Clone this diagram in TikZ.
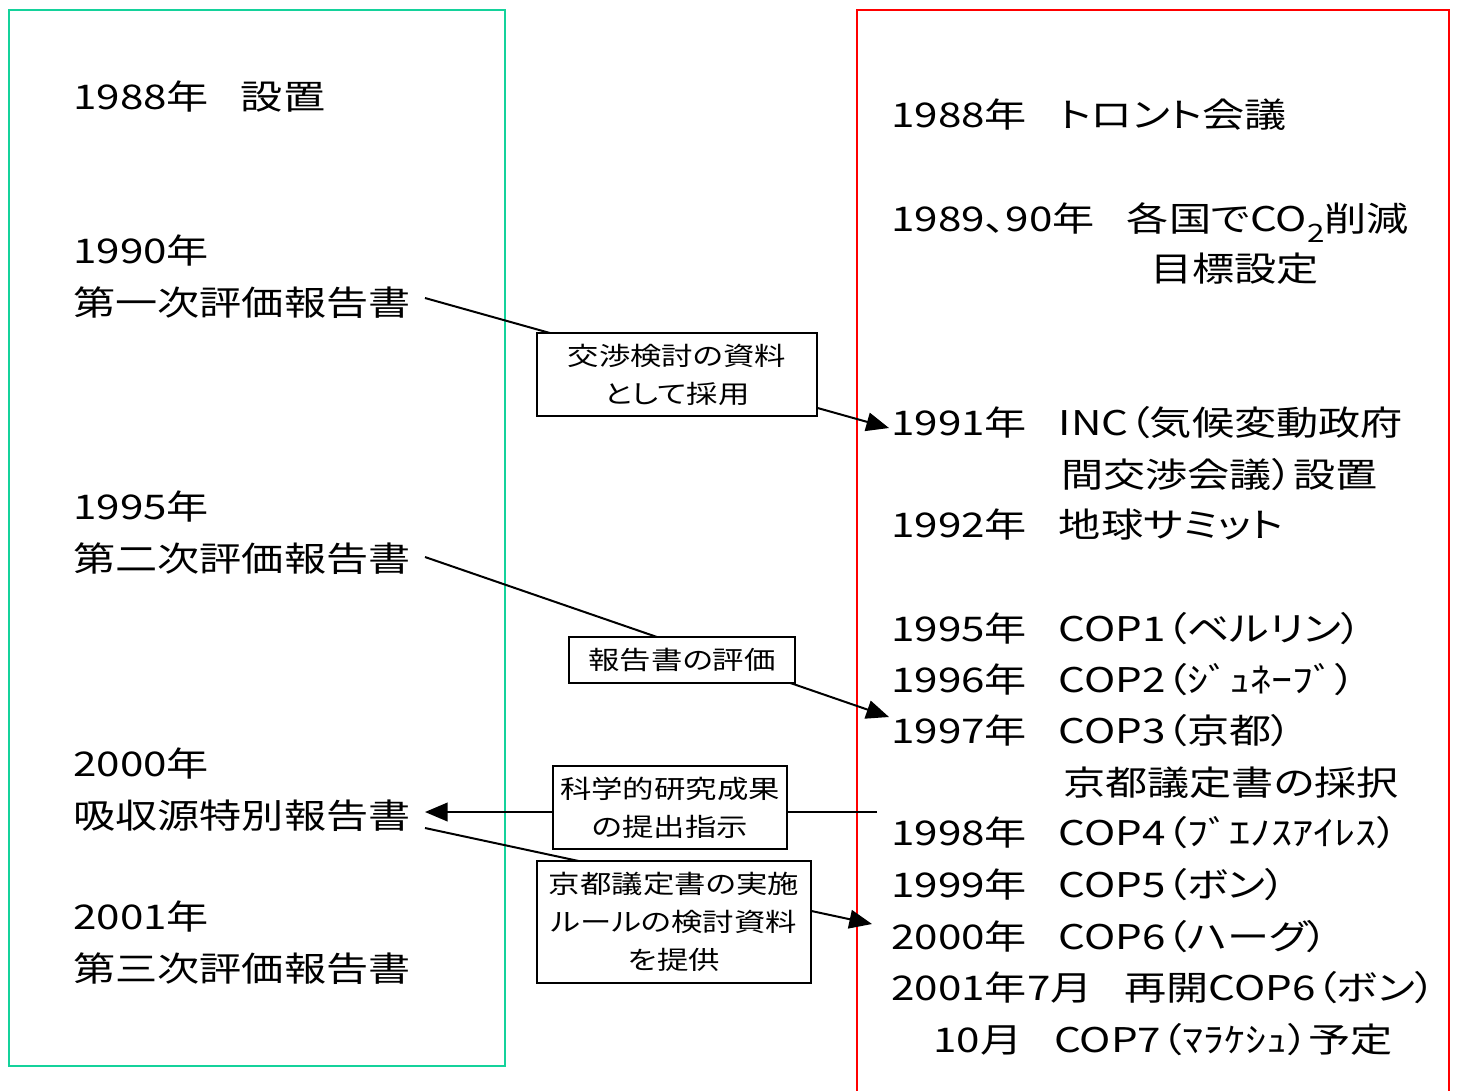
\documentclass[tikz,border=0pt]{standalone}
\usepackage{fontspec}
\setmainfont{Noto Sans CJK JP}[FakeStretch=1.24,RawFeature=+palt]
\usetikzlibrary{arrows.meta}
\definecolor{frameteal}{RGB}{20,210,155}
\definecolor{framered}{RGB}{255,0,0}
\newcommand{\gp}{\hspace{24pt}}
\newcommand{\subtwo}{\raisebox{-0.35em}{\fontsize{19pt}{19pt}\selectfont 2}}
\tikzset{
  big/.style={anchor=base west, inner sep=0pt, font=\fontsize{25.5pt}{38pt}\selectfont},
  lab/.style={draw, line width=1.1pt, fill=white, inner sep=0pt, align=center,
              font=\fontsize{19pt}{28.5pt}\selectfont},
  conn/.style={line width=1.5pt},
  tipped/.style={-{Triangle[length=17pt,width=14pt]}}
}
\begin{document}
\begin{tikzpicture}[x=0.75pt,y=-0.75pt]
\useasboundingbox (0,0) rectangle (1458,1090);
% frames
\draw[frameteal, line width=1.5pt] (9,10) rectangle (505,1066);
\draw[framered, line width=1.5pt] (857,1095) -- (857,10) -- (1449,10) -- (1449,1095);

% left column
\node[big] (l1) at (73,109) {1988年\gp 設置};
\node[big] (l2) at (73,263) {1990年};
\node[big] (l3) at (73,315) {第一次評価報告書};
\node[big] (l4) at (73,519) {1995年};
\node[big] (l5) at (73,571) {第二次評価報告書};
\node[big] (l6) at (73,776) {2000年};
\node[big] (l7) at (73,828) {吸収源特別報告書};
\node[big] (l8) at (73,929) {2001年};
\node[big] (l9) at (73,981) {第三次評価報告書};

% right column
\node[big] (r1) at (891,127) {1988年\gp トロント会議};
\node[big] (r2) at (891,231) {1989、90年\gp 各国でCO\subtwo 削減};
\node[big] (r3) at (1150,281) {目標設定};
\node[big] (r4) at (891,435) {1991年\gp INC（気候変動政府};
\node[big] (r5) at (1061,487) {間交渉会議）設置};
\node[big] (r6) at (891,537) {1992年\gp 地球サミット};
\node[big] (r7) at (891,641) {1995年\gp COP1（ベルリン）};
\node[big] (r8) at (891,692) {1996年\gp COP2（ｼﾞｭﾈｰﾌﾞ）};
\node[big] (r9) at (891,743) {1997年\gp COP3（京都）};
\node[big] (r10) at (1063,795) {京都議定書の採択};
\node[big] (r11) at (891,845) {1998年\gp COP4（ﾌﾞｴﾉｽｱｲﾚｽ）};
\node[big] (r12) at (891,897) {1999年\gp COP5（ボン）};
\node[big] (r13) at (891,949) {2000年\gp COP6（ハーグ）};
\node[big] (r14) at (891,1000) {2001年7月\gp 再開COP6（ボン）};
\node[big] (r15) at (933,1052) {10月\gp COP7（ﾏﾗｹｼｭ）予定};

% connector end points
\coordinate (s1) at (425,298);
\coordinate (t1) at (889,428);
\coordinate (s2) at (425,557);
\coordinate (t2) at (889,717);
\coordinate (s3) at (877,812);
\coordinate (t3) at (425,812);
\coordinate (s4) at (425,828);
\coordinate (t4) at (872,924);

\draw[conn,tipped] (s1) -- (t1);
\draw[conn,tipped] (s2) -- (t2);
\draw[conn,tipped] (s3) -- (t3);
\draw[conn,tipped] (s4) -- (t4);

% label boxes
\node[lab, minimum width=210pt, minimum height=62.25pt] (b1) at (677,374.5)
  {交渉検討の資料\\として採用};
\node[lab, minimum width=169.5pt, minimum height=34.5pt] (b2) at (682,660)
  {報告書の評価};
\node[lab, minimum width=175.5pt, minimum height=62.25pt] (b3) at (670,807.5)
  {科学的研究成果\\の提出指示};
\node[lab, minimum width=205.5pt, minimum height=91.5pt] (b4) at (674,922)
  {京都議定書の実施\\ルールの検討資料\\を提供};
\end{tikzpicture}
\end{document}
